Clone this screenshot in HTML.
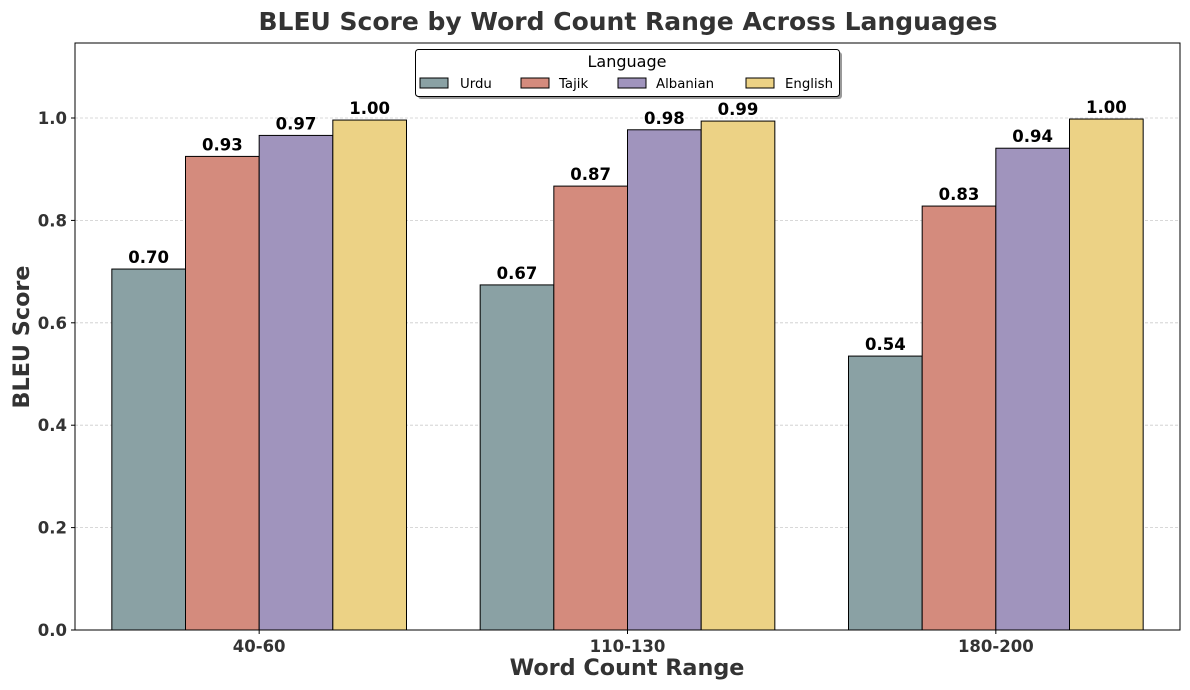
<!DOCTYPE html>
<html><head><meta charset="utf-8"><style>
body{margin:0;background:#fff;}
svg{display:block;font-family:"DejaVu Sans","Liberation Sans",sans-serif;}
</style></head><body>
<svg id="chart" width="1190" height="690" viewBox="0 0 1190 690">
<text x="628" y="30" text-anchor="middle" font-size="25" font-weight="bold" fill="#333">BLEU Score by Word Count Range Across Languages</text>
<g id="grid"></g>
<g id="bars"></g>
<g id="labels"></g>
<rect x="75" y="43" width="1105" height="587" fill="none" stroke="#000" stroke-width="1"/>
<g id="yticks"></g>
<g id="xticks"></g>
<text x="627" y="675" text-anchor="middle" font-size="22.3" font-weight="bold" fill="#333">Word Count Range</text>
<text transform="translate(29,337) rotate(-90)" text-anchor="middle" font-size="22.3" font-weight="bold" fill="#333">BLEU Score</text>
<g>
<rect x="418" y="52" width="424" height="47" rx="3" fill="#999"/>
<rect x="415.5" y="49.5" width="424" height="47" rx="3" fill="#fff" stroke="#000" stroke-width="1"/>
<text x="627" y="67" text-anchor="middle" font-size="16" fill="#000">Language</text>
<g id="legend-items"></g>
</g>
</svg>
<script>
const categories=["40-60","110-130","180-200"];
const languages=["Urdu","Tajik","Albanian","English"];
const colors=["#8aa1a4","#d48b7d","#a094bd","#ecd285"];
const urdu=[0.705,0.674,0.535];
const tajik=[0.925,0.867,0.828];
const albanian=[0.966,0.977,0.941];
const english=[0.996,0.994,0.998];
const yTicks=[0,0.2,0.4,0.6,0.8,1.0];
const series=[urdu,tajik,albanian,english];
const NS="http://www.w3.org/2000/svg";
const x0=75,x1=1180,y0=630,y1=43,yMax=1.1465;
const xs=v=>x0+(v+0.5)/3*(x1-x0);
const ys=v=>y0-v/yMax*(y0-y1);
function mk(tag,attrs,parent,text){const e=document.createElementNS(NS,tag);for(const k in attrs)e.setAttribute(k,attrs[k]);if(text!==undefined)e.textContent=text;document.getElementById(parent).appendChild(e);return e;}
yTicks.forEach(t=>{
 const y=ys(t);
 if(t>0){const g=mk("line",{x1:x0,x2:x1,y1:y,y2:y,stroke:"#ccc","stroke-dasharray":"3,2","stroke-width":0.8},"grid");
 
 }
 const tk=mk("line",{x1:x0-4,x2:x0,y1:y,y2:y,stroke:"#000"},"yticks");
 
 
 const lb=mk("text",{x:x0-8,y:y+6,"text-anchor":"end","font-size":16.5,"font-weight":"bold",fill:"#333"},"yticks",t.toFixed(1));
 
 
});
const bw=0.2;
categories.forEach((c,i)=>{
 const cx=xs(i);
 const tk=mk("line",{x1:cx,x2:cx,y1:y0,y2:y0+4,stroke:"#000"},"xticks");
 
 
 const lb=mk("text",{x:cx,y:y0+22,"text-anchor":"middle","font-size":16.5,"font-weight":"bold",fill:"#333"},"xticks",c);
 
 
 series.forEach((s,j)=>{
  const l=xs(i+(j-2)*bw), r=xs(i+(j-1)*bw), top=ys(s[i]);
  const b=mk("rect",{x:l,y:top,width:r-l,height:y0-top,fill:colors[j],stroke:"#000","stroke-width":1},"bars");
  
  
  const t=mk("text",{x:(l+r)/2,y:top-6,"text-anchor":"middle","font-size":16.5,"font-weight":"bold",fill:"#000"},"labels",s[i].toFixed(2));
  
  
 });
});
const patchX=[420,521,618,746],textX=[460,559,656,785];
languages.forEach((n,j)=>{
 const p=mk("rect",{x:patchX[j],y:78,width:28,height:10,fill:colors[j],stroke:"#000","stroke-width":1},"legend-items");
 
 
 const t=mk("text",{x:textX[j],y:88,"font-size":13.3,fill:"#000"},"legend-items",n);
 
 
});
</script>
</body></html>
